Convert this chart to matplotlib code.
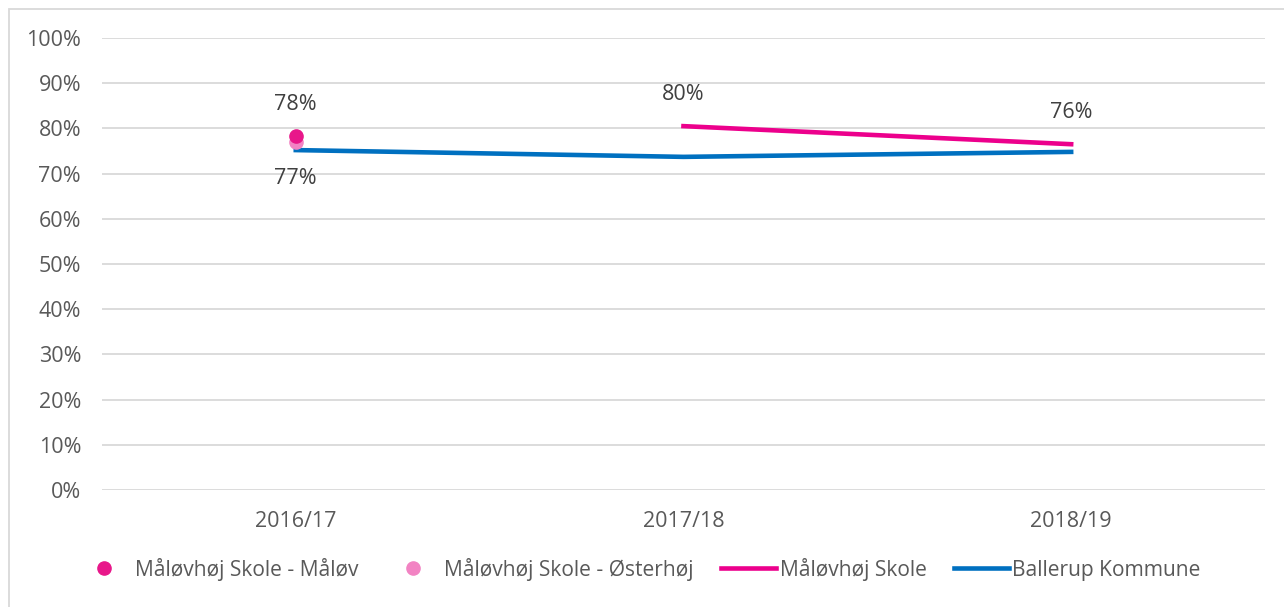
import matplotlib.pyplot as plt
import matplotlib.patches as patches
import numpy as np

plt.rcParams['font.family'] = ['Open Sans', 'DejaVu Sans']

years = ['2016/17', '2017/18', '2018/19']
maalov = [0.783, np.nan, np.nan]
oesterhoej = [0.770, np.nan, np.nan]
maaloevhoej = [np.nan, 0.805, 0.765]
ballerup = [0.752, 0.737, 0.748]

text_col = '#595959'
grid_col = '#d9d9d9'
fs = 15.5

fig = plt.figure(figsize=(12.84, 6.07), dpi=100)
ax = fig.add_axes([0.0794, 0.1928, 0.9058, 0.7446])
x = np.arange(len(years))

ax.plot(x, ballerup, color='#0070C0', lw=3.3, label='Ballerup Kommune', zorder=3)
ax.plot(x, maaloevhoej, color='#EC008C', lw=3.3, label='Måløvhøj Skole', zorder=3)
ax.plot(x, oesterhoej, 'o', color='#F283C3', ms=9.5, label='Måløvhøj Skole - Østerhøj', zorder=4)
ax.plot(x, maalov, 'o', color='#E8178A', ms=9.5, label='Måløvhøj Skole - Måløv', zorder=5)

# data labels
ax.annotate('78%', (x[0], maalov[0]), xytext=(0, 23), textcoords='offset points',
            ha='center', va='center', fontsize=fs, color='#404040')
ax.annotate('77%', (x[0], oesterhoej[0]), xytext=(0, -26), textcoords='offset points',
            ha='center', va='center', fontsize=fs, color='#404040')
for i in (1, 2):
    ax.annotate('{:.0f}%'.format(maaloevhoej[i] * 100), (x[i], maaloevhoej[i]),
                xytext=(0, 23), textcoords='offset points',
                ha='center', va='center', fontsize=fs, color='#404040')

ax.set_xlim(-0.5, 2.5)
ax.set_ylim(0, 1)
ax.set_yticks(np.arange(0, 1.01, 0.1))
ax.set_yticklabels(['{:.0f}%'.format(v * 100) for v in np.arange(0, 1.01, 0.1)])
ax.set_xticks(x)
ax.set_xticklabels(years)
ax.tick_params(axis='both', length=0, labelsize=fs, colors=text_col)
ax.tick_params(axis='y', pad=15)
ax.tick_params(axis='x', pad=15)
ax.grid(axis='y', color=grid_col, lw=1.3)
ax.set_axisbelow(True)
for s in ax.spines.values():
    s.set_visible(False)

h, l = ax.get_legend_handles_labels()
order = [3, 2, 1, 0]
leg = fig.legend([h[i] for i in order], [l[i] for i in order], ncol=4,
                 loc='center left', bbox_to_anchor=(76.5 / 1284, 0.0626), frameon=False,
                 borderpad=0, borderaxespad=0, fontsize=15.1, handlelength=2.62,
                 columnspacing=1.33, handletextpad=0.15)
for t in leg.get_texts():
    t.set_color(text_col)

fig.patches.append(patches.Rectangle((8.5 / 1284, -0.1), 1.1, 1 - 8.5 / 607 + 0.1,
                                     transform=fig.transFigure, fill=False,
                                     edgecolor='#d9d9d9', lw=1.3))

plt.savefig('out.png')
